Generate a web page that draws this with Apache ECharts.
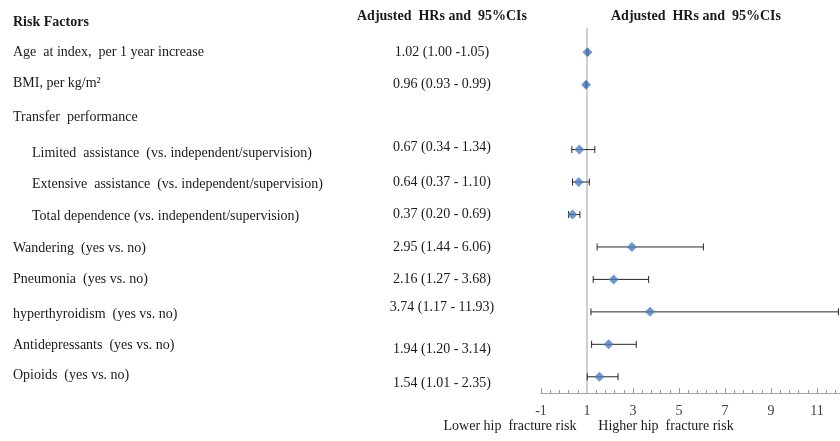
<!DOCTYPE html>
<html><head><meta charset="utf-8">
<script src="https://cdn.jsdelivr.net/npm/echarts@6/dist/echarts.min.js"></script>
<style>html,body{margin:0;padding:0;background:#fff}#c{width:840px;height:441px}</style>
</head><body><div id="c"></div>
<script>
const factors = ['Age  at index,  per 1 year increase','BMI, per kg/m²','Transfer  performance','Limited  assistance  (vs. independent/supervision)','Extensive  assistance  (vs. independent/supervision)','Total dependence (vs. independent/supervision)','Wandering  (yes vs. no)','Pneumonia  (yes vs. no)','hyperthyroidism  (yes vs. no)','Antidepressants  (yes vs. no)','Opioids  (yes vs. no)'];
const indented = [false,false,false,true,true,true,false,false,false,false,false];
const hr = [1.02,0.96,null,0.67,0.64,0.37,2.95,2.16,3.74,1.94,1.54];
const lower = [1.00,0.93,null,0.34,0.37,0.20,1.44,1.27,1.17,1.20,1.01];
const upper = [1.05,0.99,null,1.34,1.10,0.69,6.06,3.68,11.93,3.14,2.35];
const hrText = ['1.02 (1.00 -1.05)','0.96 (0.93 - 0.99)','','0.67 (0.34 - 1.34)','0.64 (0.37 - 1.10)','0.37 (0.20 - 0.69)','2.95 (1.44 - 6.06)','2.16 (1.27 - 3.68)','3.74 (1.17 - 11.93)','1.94 (1.20 - 3.14)','1.54 (1.01 - 2.35)'];
const refValue = 1;

const FONT = 'Liberation Serif';
const txt = '#1a1a1a';
// vertical nudges (px) of the middle column text and of the left labels (style only)
const midShift = [0,0,0,-2,0,0,0,0,-5,5,7];
const leftShift = [0,-1,0,4,2,2,1,0,2,1,-1];

const richFor = (shifts, extraLeft)=>{
  const r = {};
  shifts.forEach((s,i)=>{
    r['m'+i] = {fontFamily:FONT, fontSize:14, color:txt,
      padding:[s>0?2*s:0, 0, s<0?-2*s:0, extraLeft && extraLeft[i] ? 19 : 0]};
  });
  return r;
};

const chart = echarts.init(document.getElementById('c'));
const pts = [], bars = [];
hr.forEach((v,i)=>{ if(v!=null){ pts.push([v,i]); bars.push([lower[i],upper[i],i]); } });

const ts = (w)=>({fontFamily:FONT,fontSize:14,fontWeight:w,color:txt});
chart.setOption({
  animation:false,
  title:[
    {text:'Risk Factors', left:13, top:15, padding:0, textStyle:ts('bold')},
    {text:'Adjusted  HRs and  95%CIs', left:442, top:9, padding:0, textAlign:'center', textStyle:ts('bold')},
    {text:'Adjusted  HRs and  95%CIs', left:696, top:9, padding:0, textAlign:'center', textStyle:ts('bold')},
    {text:'Lower hip  fracture risk', left:510, top:419, padding:0, textAlign:'center', textStyle:ts('normal')},
    {text:'Higher hip  fracture risk', left:666, top:419, padding:0, textAlign:'center', textStyle:ts('normal')}
  ],
  grid:{left:541, right:-6, top:36, bottom:48},
  xAxis:{
    type:'value', min:-1, max:12, interval:2,
    axisLine:{show:true, lineStyle:{color:'#a6a6a6',width:1}},
    axisTick:{show:true, inside:true, length:5, lineStyle:{color:'#9a9a9a'}},
    minorTick:{show:true, splitNumber:5, length:3, lineStyle:{color:'#9a9a9a'}},
    splitLine:{show:false},
    axisLabel:{fontFamily:FONT, fontSize:14, color:'#404040', margin:11, showMaxLabel:false}
  },
  yAxis:[
    {type:'category', data:factors, inverse:true, position:'left',
     axisLine:{show:false}, axisTick:{show:false}, splitLine:{show:false},
     axisLabel:{interval:0, align:'left', margin:528, fontFamily:FONT, fontSize:14, color:txt,
       formatter:(v,i)=> '{m'+i+'|'+v+'}',
       rich:richFor(leftShift, indented)}},
    {type:'category', data:hrText, inverse:true, position:'left', offset:99,
     axisLine:{show:false}, axisTick:{show:false}, splitLine:{show:false},
     axisLabel:{interval:0, align:'center', margin:0, fontFamily:FONT, fontSize:14, color:txt,
       formatter:(v,i)=> v ? '{m'+i+'|'+v+'}' : '',
       rich:richFor(midShift)}}
  ],
  series:[
    {type:'custom', xAxisIndex:0, yAxisIndex:0, clip:false, silent:true, z:1,
     data:[[refValue]],
     renderItem:(params, api)=>{
       const cs = params.coordSys;
       const x = api.coord([api.value(0), 0])[0];
       return {type:'line', shape:{x1:x, y1:cs.y-8, x2:x, y2:cs.y+cs.height}, style:{stroke:'#d0d0d0', lineWidth:2}};
     }},
    {type:'custom', xAxisIndex:0, yAxisIndex:0, silent:true, z:2,
     data:bars,
     renderItem:(params, api)=>{
       const i = api.value(2);
       const p1 = api.coord([api.value(0), i]);
       const p2 = api.coord([api.value(1), i]);
       const h = 3.5, st = {stroke:'#262626', lineWidth:1};
       return {type:'group', children:[
         {type:'line', shape:{x1:p1[0],y1:p1[1],x2:p2[0],y2:p2[1]}, style:st},
         {type:'line', shape:{x1:p1[0],y1:p1[1]-h,x2:p1[0],y2:p1[1]+h}, style:st},
         {type:'line', shape:{x1:p2[0],y1:p2[1]-h,x2:p2[0],y2:p2[1]+h}, style:st}
       ]};
     }},
    {type:'scatter', xAxisIndex:0, yAxisIndex:0, z:3, symbol:'diamond', symbolSize:[10,10],
     itemStyle:{color:'#4a7ec2'}, data:pts}
  ]
});
</script></body></html>
